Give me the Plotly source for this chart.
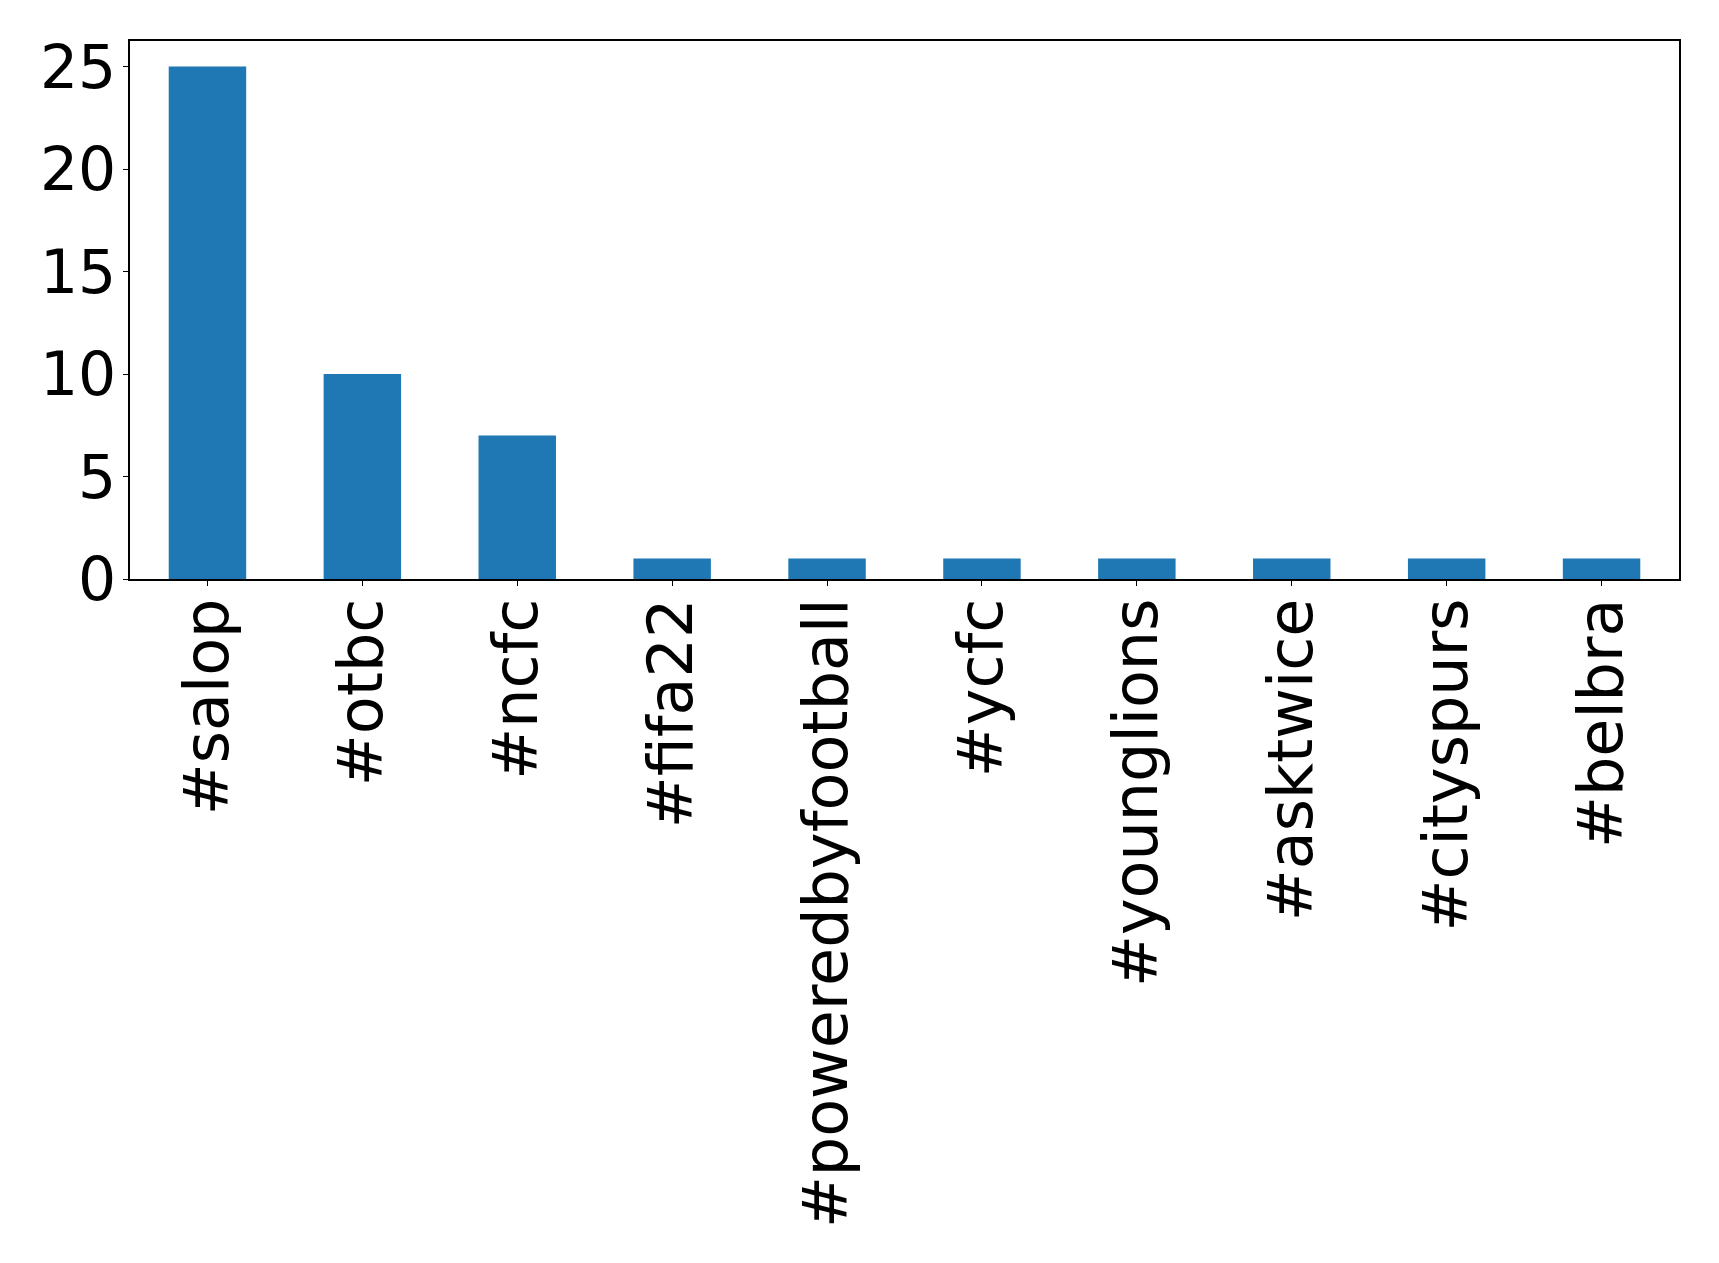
import plotly.graph_objects as go

# Hashtag counts
hashtags = ["#salop", "#otbc", "#ncfc", "#fifa22", "#poweredbyfootball",
            "#ycfc", "#younglions", "#asktwice", "#cityspurs", "#belbra"]
counts = [25, 10, 7, 1, 1, 1, 1, 1, 1, 1]

W, H = 1719, 1263
L, R, T, B = 129.5, 40, 41, 684

fig = go.Figure(
    go.Bar(
        x=list(range(len(hashtags))),
        y=counts,
        marker=dict(color="#1f77b4", line=dict(width=0)),
        width=0.5,
    )
)

xfont = dict(family="DejaVu Sans", size=62, color="black")
yfont = dict(family="DejaVu Sans", size=60, color="black")

fig.update_layout(
    width=W, height=H,
    margin=dict(l=L, r=R, t=T, b=B, pad=0),
    paper_bgcolor="white", plot_bgcolor="white",
    showlegend=False,
)
fig.update_xaxes(
    range=[-0.5, len(hashtags) - 0.5],
    tickmode="array",
    tickvals=list(range(len(hashtags))),
    ticktext=hashtags,
    tickangle=-90,
    ticks="outside", ticklen=5, tickwidth=1.2, tickcolor="black",
    showline=True, linecolor="black", linewidth=1.5, mirror=True,
    showgrid=False, zeroline=False,
    tickfont=xfont, automargin=False, ticklabelstandoff=-12,
)
fig.update_yaxes(
    range=[0, 26.25],
    tickmode="array",
    tickvals=[0, 5, 10, 15, 20, 25],
    ticks="outside", ticklen=5, tickwidth=1.2, tickcolor="black",
    showline=True, linecolor="black", linewidth=1.5, mirror=True,
    showgrid=False, zeroline=False,
    tickfont=yfont, automargin=False, ticklabelstandoff=-5,
)

fig.write_html("out.html")
